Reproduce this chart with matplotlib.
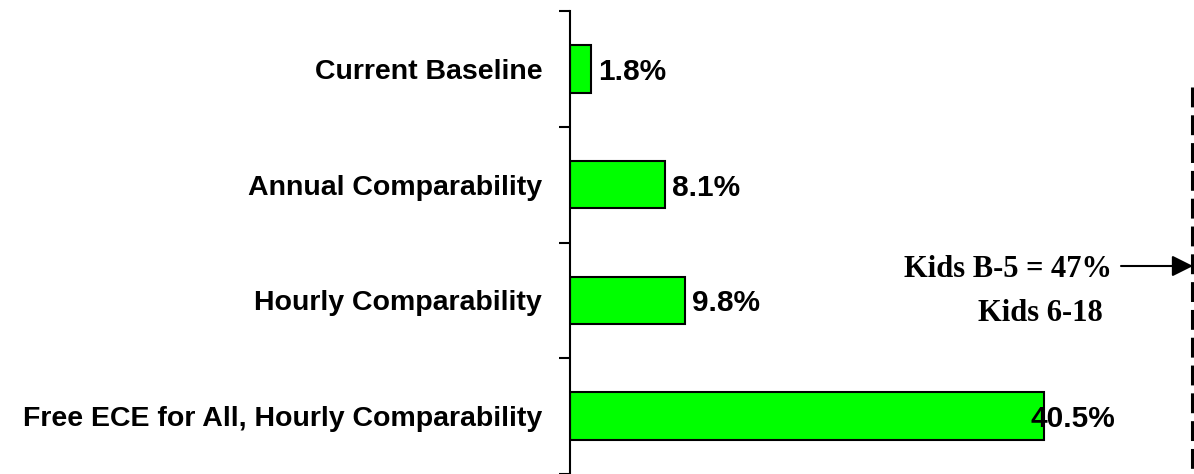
import numpy as np
import matplotlib.pyplot as plt
from matplotlib.patches import FancyArrowPatch

# scenarios, top to bottom
scenarios = ["Current Baseline", "Annual Comparability",
             "Hourly Comparability", "Free ECE for All, Hourly Comparability"]
share_pct = [1.8, 8.1, 9.8, 40.5]
value_labels = ["1.8%", "8.1%", "9.8%", "40.5%"]

plt.rcParams['font.family'] = ['Liberation Sans', 'DejaVu Sans']

fig = plt.figure(figsize=(11.94, 4.74), dpi=100)
ax = fig.add_axes([570/1194, 0.0, 1 - 570/1194, 1 - 11/474])

y = np.arange(len(scenarios))
ax.barh(y, share_pct, height=0.41, color='#00ff00', edgecolor='black', linewidth=1.5)
ax.set_ylim(len(scenarios) - 0.5, -0.5)
ax.set_xlim(0, 53.3)

# value labels; the last one sits over the bar end
offsets = [0.6, 0.6, 0.6, -1.2]
for yi, v, lab, off in zip(y, share_pct, value_labels, offsets):
    ax.text(v + off, yi + 0.094, lab, va='baseline', ha='left',
            fontsize=21.5, fontweight='bold')

ax.set_yticks(y)
ax.set_yticklabels(scenarios, fontsize=20.5, fontweight='bold')
ax.tick_params(axis='y', which='major', length=0, pad=20)
ax.set_yticks(np.arange(-0.5, len(scenarios), 1.0), minor=True)
ax.tick_params(axis='y', which='minor', length=8, width=1.5, direction='out')
ax.set_xticks([])
for side in ['top', 'right', 'bottom']:
    ax.spines[side].set_visible(False)
ax.spines['left'].set_linewidth(1.5)

# side annotation with dashed bracket
serif = ['Liberation Serif', 'DejaVu Serif']
fig.text(1008/1194, 1 - 277/474, "Kids B-5 = 47%", ha='center', va='baseline',
         fontsize=22, fontweight='bold', family=serif)
fig.text(1040/1194, 1 - 321/474, "Kids 6-18", ha='center', va='baseline',
         fontsize=22, fontweight='bold', family=serif)
fig.add_artist(plt.Line2D([1192/1194, 1192/1194], [1 - 87/474, 0], transform=fig.transFigure,
                          color='black', linewidth=2.2, linestyle=(0, (6.5, 2.6))))
fig.add_artist(FancyArrowPatch((1121/1194, 1 - 266/474), (1193/1194, 1 - 266/474),
                               transform=fig.transFigure, arrowstyle='-|>',
                               shrinkA=0, shrinkB=0,
                               mutation_scale=32, color='black', linewidth=1.5))

fig.savefig('out.png', dpi=100)
